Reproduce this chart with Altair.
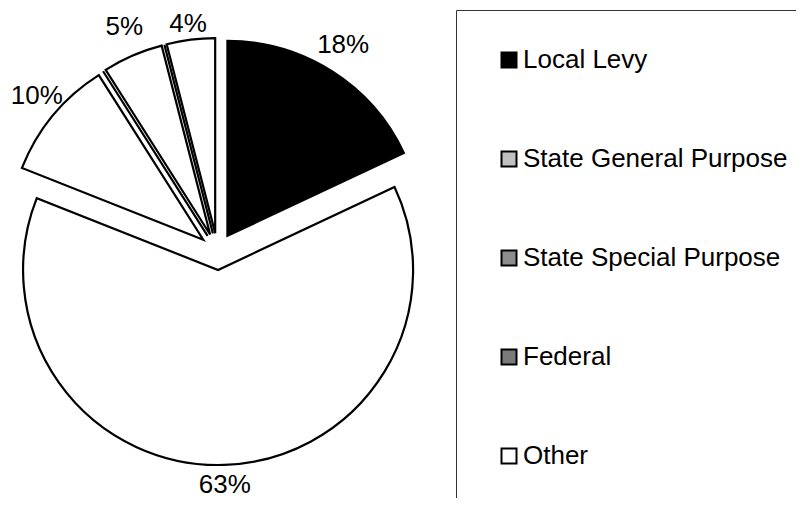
import altair as alt
import pandas as pd

# ---- data ----
categories = ["Local Levy", "State General Purpose", "State Special Purpose",
              "Federal", "Other", "Unlisted A", "Unlisted B"]
shares = [18, 63, 10, 0, 5, 0, 4]
legend_names = ["Local Levy", "State General Purpose", "State Special Purpose",
                "Federal", "Other"]

# ---- styling ----
slice_colors = ["#000000", "#ffffff", "#ffffff", "#ffffff", "#ffffff", "#ffffff", "#ffffff"]
legend_colors = ["#000000", "#c0c0c0", "#8c8c8c", "#7a7a7a", "#ffffff"]
FONT = "Liberation Sans"
CX, CY = 209.5, 243.5      # pie centre (px inside the view)
EXPLODE = 18.5             # explosion distance
R = 195                    # radius
LABEL_RX, LABEL_RY = 216, 226   # label distance from slice apex (x / y)
TY_MIN, TY_MAX = 16, 477        # keep labels inside the chart area

df = pd.DataFrame({"category": categories, "share": shares})

base = alt.Chart(df).transform_window(
    cum="sum(share)", frame=[None, 0]
).transform_joinaggregate(
    total="sum(share)"
).transform_calculate(
    a0="2*PI*(datum.cum - datum.share)/datum.total",
    a1="2*PI*datum.cum/datum.total",
).transform_calculate(
    mid="(datum.a0 + datum.a1)/2"
).transform_calculate(
    cx=f"{CX} + {EXPLODE}*sin(datum.mid)",
    cy=f"{CY} - {EXPLODE}*cos(datum.mid)",
    tx=f"{CX} + {EXPLODE + LABEL_RX}*sin(datum.mid)",
    ty=f"clamp({CY} - {EXPLODE + LABEL_RY}*cos(datum.mid), {TY_MIN}, {TY_MAX})",
    label="datum.share + '%'",
)

arcs = base.mark_arc(outerRadius=R, stroke="black", strokeWidth=2.2,
                     strokeJoin="miter").encode(
    theta=alt.Theta("a0:Q", scale=None),
    theta2="a1:Q",
    x=alt.X("cx:Q", scale=None),
    y=alt.Y("cy:Q", scale=None),
    fill=alt.Fill("category:N", scale=alt.Scale(domain=categories, range=slice_colors),
                  legend=None),
)

labels = base.transform_filter("datum.share > 0").mark_text(
    font=FONT, fontSize=26, color="black", align="center", baseline="middle"
).encode(
    x=alt.X("tx:Q", scale=None),
    y=alt.Y("ty:Q", scale=None),
    text="label:N",
)

legend_layer = alt.Chart(pd.DataFrame({"category": legend_names})).mark_square(
    opacity=1, stroke="black", strokeWidth=2, size=225
).encode(
    x=alt.value(-200),
    y=alt.value(-200),
    color=alt.Color(
        "category:N",
        scale=alt.Scale(domain=legend_names, range=legend_colors),
        legend=alt.Legend(
            title=None,
            orient="none",
            legendX=448,
            legendY=2,
            padding=37,
            symbolOffset=3,
            symbolType="square",
            symbolSize=225,
            symbolStrokeWidth=2,
            symbolStrokeColor="black",
            symbolOpacity=1,
            labelFont=FONT,
            labelFontSize=26,
            labelColor="black",
            labelOffset=1,
            labelLimit=400,
            rowPadding=73,
            strokeColor="#333333",
            fillColor="white",
        ),
    ),
)

chart = alt.layer(arcs, labels, legend_layer).properties(
    width=788, height=490,
    autosize=alt.AutoSizeParams(type="none"),
    padding=0,
    background="white",
).configure_view(stroke=None)

chart.save("out.html", embed_options={"renderer": "svg", "actions": False})
